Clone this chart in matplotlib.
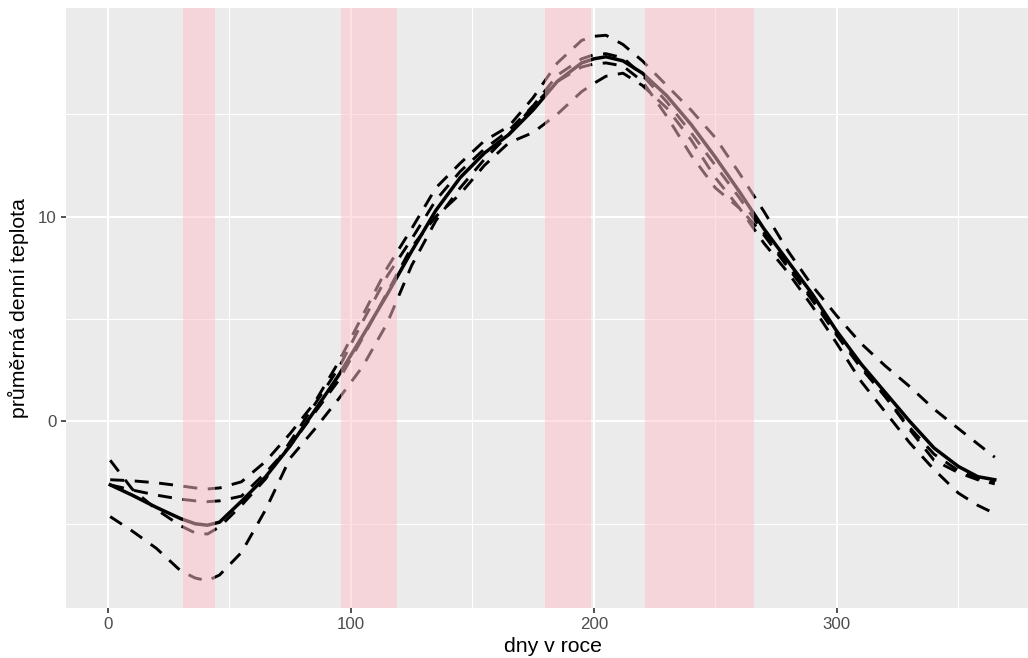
import matplotlib
matplotlib.use("Agg")
from matplotlib import pyplot as plt
import numpy as np

plt.rcParams['font.family'] = ['Liberation Sans', 'DejaVu Sans']

# den v roce
dny = [1, 10, 20, 30, 36, 41, 46, 55, 65, 75, 85, 95, 105, 115, 125, 135, 145,
       155, 165, 175, 185, 195, 200, 205, 212, 220, 230, 240, 250, 260, 270,
       280, 290, 300, 310, 320, 330, 340, 350, 358, 365]

# prumer (plna cara)
prumer = [-3.1, -3.6, -4.2, -4.75, -5.0, -5.07, -4.92, -3.9, -2.7, -1.2, 0.5,
          2.25, 4.2, 6.2, 8.3, 10.3, 11.9, 13.1, 14.0, 15.2, 16.6, 17.5, 17.7,
          17.8, 17.6, 17.0, 15.9, 14.5, 12.9, 11.2, 9.4, 7.8, 6.2, 4.4, 2.8,
          1.4, 0.0, -1.3, -2.2, -2.7, -2.85]

# jednotlive roky (carkovane)
rok_a = [-1.9, -3.3, -4.3, -5.1, -5.45, -5.5, -5.15, -4.1, -2.8, -1.0, 0.8,
         2.6, 4.9, 7.1, 8.9, 10.8, 12.2, 13.3, 14.2, 15.4, 16.9, 17.7, 17.9,
         17.95, 17.75, 16.9, 15.6, 14.1, 12.5, 10.9, 9.2, 7.6, 6.0, 4.3, 2.7,
         1.2, -0.3, -1.6, -2.4, -2.8, -2.95]
rok_b = [-2.85, -2.9, -3.0, -3.15, -3.25, -3.3, -3.25, -2.95, -1.95, -0.6, 0.9,
         2.9, 5.2, 7.5, 9.4, 11.4, 12.6, 13.7, 14.4, 15.8, 17.5, 18.6, 18.8,
         18.85, 18.4, 17.6, 16.4, 15.2, 13.85, 12.1, 10.25, 8.3, 6.6, 5.15,
         3.8, 2.7, 1.7, 0.6, -0.35, -1.1, -1.75]
rok_c = [-3.1, -3.35, -3.6, -3.8, -3.88, -3.92, -3.88, -3.65, -2.5, -1.2, 0.4,
         2.0, 4.1, 6.3, 8.5, 10.0, 11.1, 12.5, 13.6, 14.1, 15.0, 16.1, 16.5,
         16.85, 17.0, 16.4, 15.3, 13.75, 11.9, 10.4, 9.1, 7.5, 5.9, 4.2, 2.6,
         1.2, -0.4, -1.9, -2.5, -2.85, -3.05]
rok_d = [-4.65, -5.35, -6.2, -7.3, -7.65, -7.78, -7.5, -6.4, -4.3, -1.8, -0.4,
         1.1, 2.7, 4.8, 7.6, 9.8, 11.4, 12.8, 14.0, 15.4, 16.6, 17.3, 17.45,
         17.5, 17.35, 16.6, 14.9, 13.0, 11.4, 10.4, 8.7, 7.25, 5.6, 3.8, 1.95,
         0.45, -1.05, -2.35, -3.5, -4.1, -4.5]

# zvyraznena obdobi
obdobi_od = [31, 96, 180, 221]
obdobi_do = [44, 119, 199, 266]

fig = plt.figure(figsize=(10.28, 6.58), dpi=100)
x0, x1 = -17.2, 383.2
ax = fig.add_axes([66 / 1028, 50 / 658, (1039 - 66) / 1028, 600 / 658])
ax.set_facecolor('#EBEBEB')

for r in [rok_a, rok_b, rok_c, rok_d]:
    ax.plot(dny, r, color='black', lw=2.1, ls=(0, (4.8, 3.6)), zorder=3)
ax.plot(dny, prumer, color='black', lw=2.5, zorder=4)

for a, b in zip(obdobi_od, obdobi_do):
    ax.axvspan(a, b, color='pink', alpha=0.5, lw=0, zorder=5)

vse = rok_a + rok_b + rok_c + rok_d + prumer
lo, hi = min(vse), max(vse)
ax.set_xlim(x0, x1)
ax.set_ylim(lo - 0.05 * (hi - lo), hi + 0.05 * (hi - lo))

ax.set_xticks([0, 100, 200, 300])
ax.set_xticks([50, 150, 250, 350], minor=True)
ax.set_yticks([0, 10])
ax.set_yticks([-5, 5, 15], minor=True)
ax.grid(which='major', color='white', lw=1.5, zorder=1)
ax.grid(which='minor', color='white', lw=0.75, zorder=1)
ax.set_axisbelow(True)
ax.tick_params(which='major', length=3.8, width=1.2, color='#333333',
               labelsize=12.2, labelcolor='#4D4D4D', pad=3)
ax.tick_params(which='minor', length=0)
for s in ax.spines.values():
    s.set_visible(False)

ax.set_xlabel('dny v roce', fontsize=15.3, labelpad=3)
ax.set_ylabel('průměrná denní teplota', fontsize=15.3, labelpad=6)

fig.savefig('out.png', dpi=100)
